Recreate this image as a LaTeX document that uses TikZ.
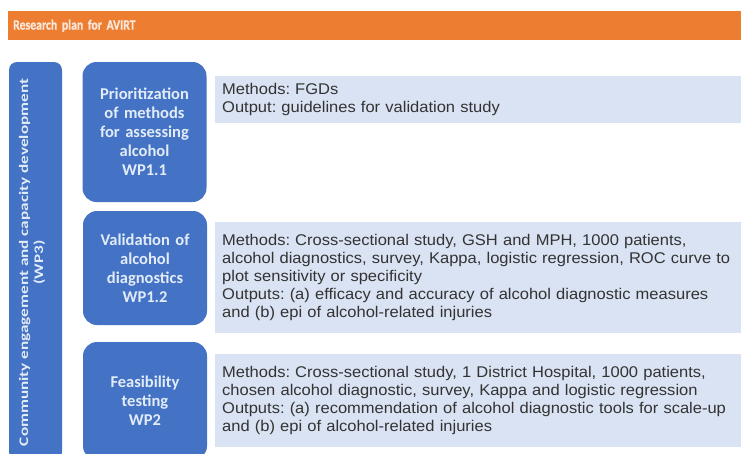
\documentclass[tikz,border=0pt]{standalone}
\usepackage{fontspec}
\setmainfont{Liberation Sans}
\newfontfamily\calibri{Carlito}
\newfontfamily\titlefont[FakeStretch=0.84, FakeBold=1.5]{Carlito Bold}
\newfontfamily\bodyfont[FakeStretch=1.065]{Liberation Sans}
\frenchspacing
\definecolor{planorange}{HTML}{ED7D31}
\definecolor{wpblue}{HTML}{4472C4}
\definecolor{wplight}{HTML}{DAE3F3}
\definecolor{wptext}{HTML}{E2ECF8}
\definecolor{titletext}{HTML}{FBE5D6}
\definecolor{bodytext}{HTML}{333333}
\tikzset{
  titlebar/.style = {fill=planorange, text=titletext, anchor=north west,
    font=\titlefont\fontsize{14}{16}\selectfont,
    minimum height=29pt, text width=727pt, inner xsep=5pt, align=left},
  wpbar/.style = {fill=wpblue, rounded corners=8pt, minimum width=53pt,
    minimum height=398pt, inner sep=0pt},
  wplabel/.style = {text=wptext, rotate=90, align=center,
    font=\calibri\bfseries\fontsize{13}{15}\selectfont},
  workpackage/.style = {fill=wpblue, rounded corners=14pt, text=wptext,
    font=\calibri\bfseries\fontsize{16.5}{19}\selectfont,
    minimum width=124pt, text width=114pt, inner xsep=5pt, align=center},
  details/.style = {fill=wplight, text=bodytext, anchor=west,
    font=\bodyfont\fontsize{15.5}{18}\selectfont,
    minimum width=530pt, text width=530pt, inner xsep=7pt, align=left}
}

\begin{document}
\begin{tikzpicture}[x=1pt, y=-1pt]
\useasboundingbox (0,0) rectangle (741,453);
\clip (0,0) rectangle (741,453);
\fill[white] (0,0) rectangle (741,453);
% TITLE
\node[titlebar] (title) at (8,11) {Research plan for AVIRT};
% WP3 BAR
\node[wpbar] (wp3) at (35.5,261) {};
\node[wplabel, xscale=1.32] (wp3-text) at (32,262.5) {Community engagement and capacity development\\(WP3)};
% WORK PACKAGES
\node[workpackage, minimum height=140pt] (wp11) at (144.5,132) {Prioritization\\of methods\\for assessing\\alcohol\\WP1.1};
\node[workpackage, minimum height=114pt] (wp12) at (145,268) {Validation of\\alcohol\\diagnostics\\WP1.2};
\node[workpackage, minimum height=118pt] (wp2) at (145,401) {Feasibility\\testing\\WP2};
% METHODS AND OUTPUTS
\node[details, minimum height=47pt] (wp11-plan) at (215,99.5) {Methods: FGDs\\Output: guidelines for validation study};
\node[details, minimum height=111pt] (wp12-plan) at (215,277.5) {Methods: Cross-sectional study, GSH and MPH, 1000 patients,\\alcohol diagnostics, survey, Kappa, logistic regression, ROC curve to\\plot sensitivity or specificity\\Outputs: (a) efficacy and accuracy of alcohol diagnostic measures\\and (b) epi of alcohol-related injuries};
\node[details, minimum height=93pt] (wp2-plan) at (215,400.5) {Methods: Cross-sectional study, 1 District Hospital, 1000 patients,\\chosen alcohol diagnostic, survey, Kappa and logistic regression\\Outputs: (a) recommendation of alcohol diagnostic tools for scale-up\\and (b) epi of alcohol-related injuries};
\end{tikzpicture}
\end{document}
